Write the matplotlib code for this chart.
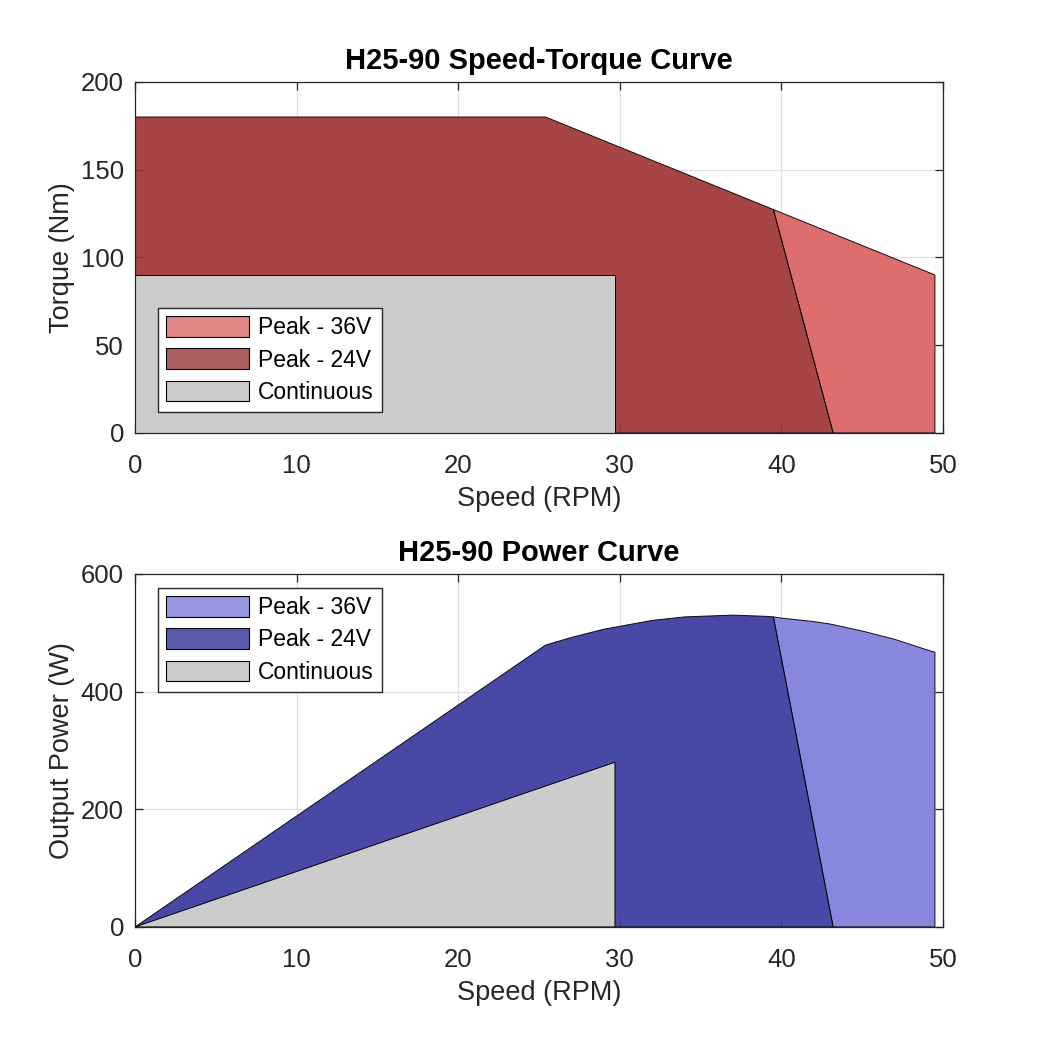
import matplotlib
matplotlib.use('Agg')
import matplotlib.pyplot as plt
from matplotlib.patches import Patch

plt.rcParams['font.family'] = ['Liberation Sans', 'DejaVu Sans']

# ===== data =====
# torque envelope (speed RPM, torque Nm)
speed_24 = [0, 0, 25.4, 39.5, 43.2]
torque_24 = [0, 180, 180, 127.3, 0]
speed_36 = [39.5, 49.5, 49.5, 43.2]
torque_36 = [127.3, 90, 0, 0]
speed_cont = [0, 0, 29.7, 29.7]
torque_cont = [0, 90, 90, 0]

# power envelope (speed RPM, power W)
pw_speed_24 = [0, 25.4, 26, 27, 28, 29, 30, 31, 32, 33, 34, 35, 36, 37, 38, 39, 39.5, 43.2]
pw_24 = [0, 479, 484, 492, 499, 506, 511, 516, 521, 524, 527, 528, 529, 530, 529, 528, 527, 0]
pw_speed_36 = [39.5, 40, 41, 42, 43, 44, 45, 46, 47, 48, 49, 49.5, 49.5, 43.2]
pw_36 = [527, 525, 522, 519, 515, 509, 503, 496, 489, 480, 471, 467, 0, 0]
pw_speed_cont = [0, 29.7, 29.7]
pw_cont = [0, 280, 0]

labels = ['Peak - 36V', 'Peak - 24V', 'Continuous']

txt = '#262626'
fig = plt.figure(figsize=(10.42, 10.42), dpi=100)
ax1 = fig.add_axes([0.1296, 0.5845, 0.7754, 0.3369])
ax2 = fig.add_axes([0.1296, 0.1104, 0.7754, 0.3388])


def style(ax, ylim, yticks):
    ax.set_xlim(0, 50)
    ax.set_ylim(*ylim)
    ax.set_xticks([0, 10, 20, 30, 40, 50])
    ax.set_yticks(yticks)
    ax.grid(True, color='#dfdfdf', linewidth=0.9)
    ax.set_axisbelow(True)
    ax.tick_params(direction='in', top=True, right=True, labelsize=18.5,
                   colors=txt, length=6, width=0.9)
    ax.tick_params(axis='x', pad=15)
    ax.tick_params(axis='y', pad=8)
    for s in ax.spines.values():
        s.set_color(txt)
        s.set_linewidth(0.9)
    ax.set_xlabel('Speed (RPM)', fontsize=19.5, color=txt, labelpad=6)


leg_kw = dict(fontsize=16.5, fancybox=False, edgecolor=txt, framealpha=1,
              handlelength=3.6, handleheight=1.0, borderpad=0.35, labelspacing=0.4,
              handletextpad=0.4, borderaxespad=0)

# ===== torque =====
ax1.fill(speed_36, torque_36, facecolor='#dc6262', alpha=0.92, edgecolor='black', linewidth=0.7)
ax1.fill(speed_24, torque_24, facecolor='#9f3436', alpha=0.92, edgecolor='black', linewidth=0.7)
ax1.fill(speed_cont, torque_cont, facecolor='#cccccc', edgecolor='black', linewidth=0.7)
style(ax1, (0, 200), [0, 50, 100, 150, 200])
ax1.set_ylabel('Torque (Nm)', fontsize=19.5, color=txt)
ax1.set_title('H25-90 Speed-Torque Curve', fontsize=21, fontweight='bold', color='black', pad=9)
h1 = [Patch(facecolor=c, edgecolor='black', linewidth=0.8) for c in ['#e08585', '#ad5e5f', '#cccccc']]
ax1.legend(h1, labels, loc='lower left', bbox_to_anchor=(0.0285, 0.06), **leg_kw)

# ===== power =====
ax2.fill(pw_speed_36, pw_36, facecolor='#7d7ddc', alpha=0.92, edgecolor='black', linewidth=0.7)
ax2.fill(pw_speed_24, pw_24, facecolor='#38389f', alpha=0.92, edgecolor='black', linewidth=0.7)
ax2.fill(pw_speed_cont, pw_cont, facecolor='#cccccc', edgecolor='black', linewidth=0.7)
style(ax2, (0, 600), [0, 200, 400, 600])
ax2.set_ylabel('Output Power (W)', fontsize=19.5, color=txt)
ax2.set_title('H25-90 Power Curve', fontsize=21, fontweight='bold', color='black', pad=9)
h2 = [Patch(facecolor=c, edgecolor='black', linewidth=0.8) for c in ['#9595e0', '#5a5aad', '#cccccc']]
ax2.legend(h2, labels, loc='upper left', bbox_to_anchor=(0.0285, 0.96), **leg_kw)

fig.savefig('out.png', dpi=100)
